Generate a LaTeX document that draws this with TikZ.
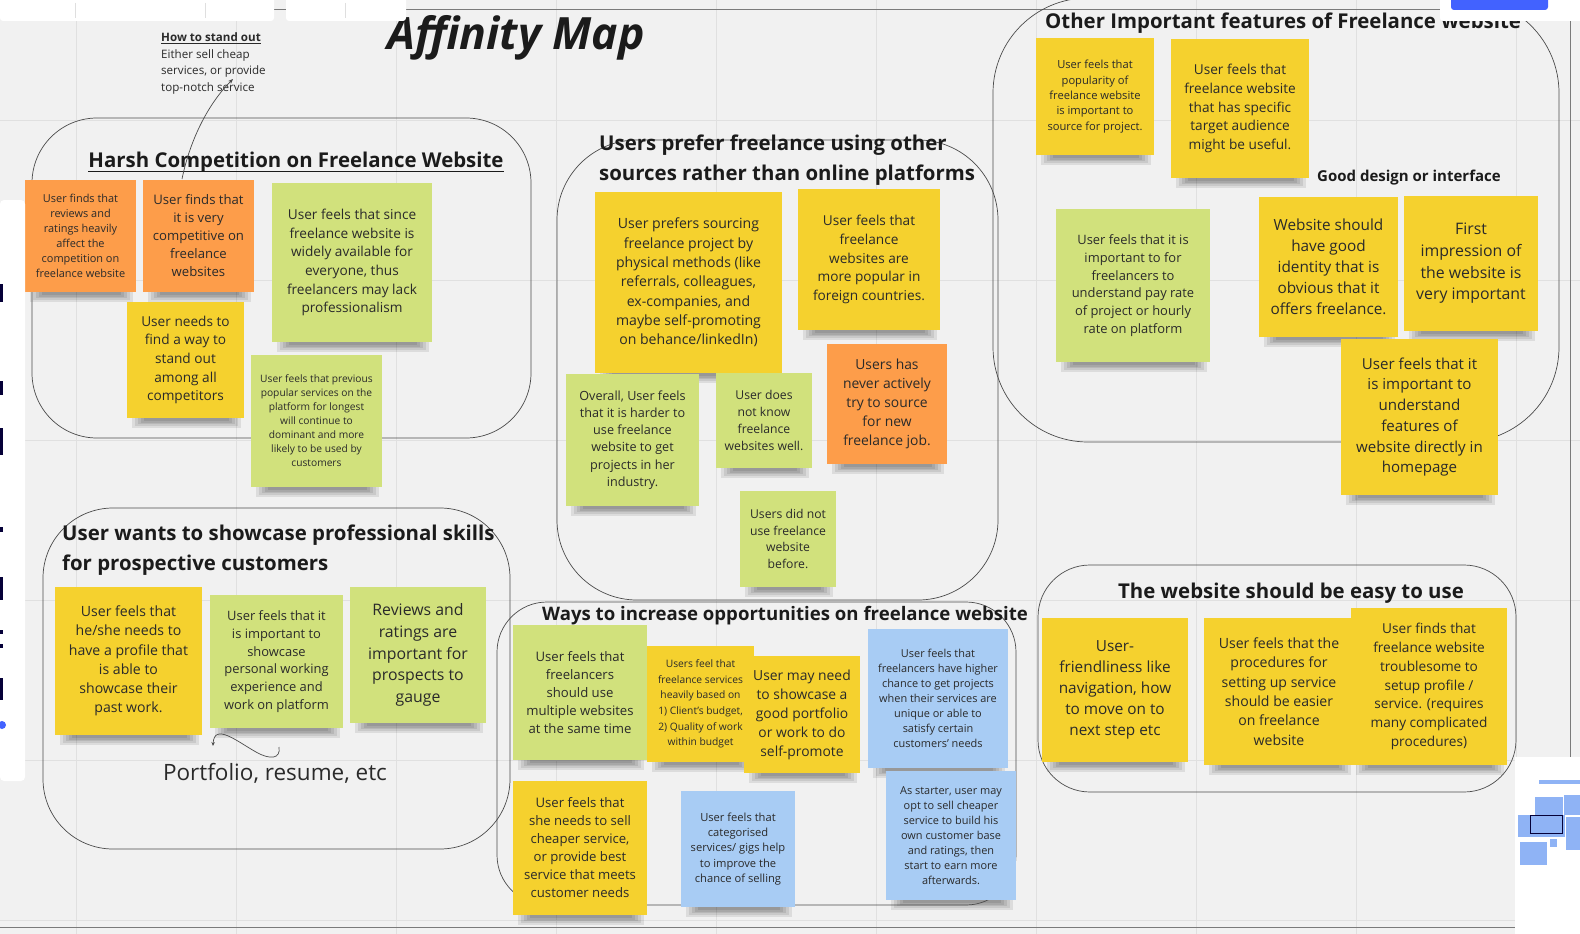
\documentclass[tikz,border=0pt]{standalone}
\usepackage{fontspec}
\setmainfont{Open Sans}
\usetikzlibrary{arrows.meta}
\pgfdeclarelayer{bg}
\pgfdeclarelayer{shad}
\pgfsetlayers{bg,shad,main}
\definecolor{canvas}{HTML}{F1F1F1}
\definecolor{gridc}{HTML}{E0E0E0}
\definecolor{stY}{HTML}{F5D12E}
\definecolor{stO}{HTML}{FD9D4A}
\definecolor{stG}{HTML}{D1E17C}
\definecolor{stB}{HTML}{A8CCF4}
\definecolor{inkc}{HTML}{2A2A2A}
\definecolor{titlec}{HTML}{1B1B1B}
\definecolor{linec}{HTML}{4A4A4A}
\definecolor{framec}{HTML}{7A7A7A}
\definecolor{blueb}{HTML}{4262FF}
\definecolor{navy}{HTML}{050038}
\definecolor{minib}{HTML}{8FB3F5}
\tikzset{
  stnote/.style={inner sep=0pt, align=center, text=inkc},
  ttl/.style={font=\fontsize{20.4pt}{30pt}\selectfont\bfseries, text=titlec, inner sep=0pt, align=left},
  cluster/.style={draw=linec, line width=0.7pt},
  conn/.style={draw=linec, line width=0.7pt},
}
\def\stkratio{1.37}
\newcommand\stickynote[8]{%
  \pgfmathsetmacro\stkw{#5-#3}%
  \pgfmathsetmacro\stkh{#6-#4}%
  \pgfmathsetmacro\stkfs{#7/\stkratio}%
  \begin{pgfonlayer}{shad}%
    \foreach \k in {0,...,4}{%
      \fill[black,opacity=0.085] ({#3+5+3*\k},{#6-2}) rectangle ({#5-3-3*\k},{#6+10-1.8*\k});
    }%
  \end{pgfonlayer}%
  \node[stnote,fill=#2,minimum width=\stkw pt,minimum height=\stkh pt,
        font=\fontsize{\stkfs pt}{#7 pt}\selectfont] (#1) at ({(#3+#5)/2},{(#4+#6)/2}) {#8};%
}
\begin{document}
\begin{tikzpicture}[x=1pt,y=-1pt]
\useasboundingbox (0,0) rectangle (1580,934);
\begin{pgfonlayer}{bg}
  \fill[canvas] (0,0) rectangle (1580,934);
  \foreach \gx in {76,236,...,1516} \draw[gridc, line width=0.8pt] (\gx,0) -- (\gx,934);
  \foreach \gy in {120,280,...,920} \draw[gridc, line width=0.8pt] (0,\gy) -- (1580,\gy);
  \draw[framec, line width=0.8pt] (-10,9.3) -- (1570,9.3) -- (1570,927) -- (-10,927);
\end{pgfonlayer}

% clusters
\draw[cluster, rounded corners=65pt] (32,118) rectangle (531,438);
\draw[cluster, rounded corners=80pt] (557,140) rectangle (998,600);
\draw[cluster, rounded corners=70pt] (43,508) rectangle (510,849);
\draw[cluster, rounded corners=50pt] (497,602) rectangle (1016,905);
\draw[cluster, rounded corners=95pt] (993,-2) rectangle (1559,442);
\draw[cluster, rounded corners=52pt] (1038,565) rectangle (1516,792);

% headings
\node[font=\fontsize{44.5pt}{50pt}\selectfont\bfseries\itshape, text=titlec, inner sep=0pt] (title) at (516,38) {Affinity Map};
\node[ttl] (t1) at (296,162) {Harsh Competition on Freelance Website};
\draw[titlec, line width=1.3pt] ([yshift=-4pt]t1.base west) -- ([yshift=-4pt]t1.base east);
\node[ttl, anchor=west] (t2) at (599,160) {Users prefer freelance using other\\sources rather than online platforms};
\node[ttl, anchor=west] (t3) at (62,550) {User wants to showcase professional skills\\for prospective customers};
\node[ttl, anchor=west, font=\fontsize{18.6pt}{28pt}\selectfont\bfseries] (t4) at (542,616) {Ways to increase opportunities on freelance website};
\node[ttl, anchor=west] (t5) at (1045,23) {Other Important features of Freelance website};
\node[ttl] (t6) at (1291,593) {The website should be easy to use};
\node[ttl, anchor=west, font=\fontsize{15pt}{20pt}\selectfont\bfseries] (gd) at (1317,178) {Good design or interface};

\node[inner sep=0pt, anchor=west, align=left, text=inkc, font=\fontsize{11.6pt}{16.7pt}\selectfont] (howto) at (161,63.5)
  {\textbf{\underline{How to stand out}}\\Either sell cheap\\services, or provide\\top-notch service};
\node[inner sep=0pt, text=inkc, font=\fontsize{22.5pt}{28pt}\selectfont] (port) at (275,773) {Portfolio, resume, etc};

% cluster 1
\stickynote{h1}{stO}{25}{180}{136}{292}{15}{User finds that\\reviews and\\ratings heavily\\affect the\\competition on\\freelance website}
\stickynote{h2}{stO}{143}{180}{254}{292}{18}{User finds that\\it is very\\competitive on\\freelance\\websites}
\stickynote{h3}{stG}{272}{183}{432}{342}{18.7}{User feels that since\\freelance website is\\widely available for\\everyone, thus\\freelancers may lack\\professionalism}
\stickynote{h4}{stY}{127}{302}{244}{418}{18.7}{User needs to\\find a way to\\stand out\\among all\\competitors}
\stickynote{h5}{stG}{251}{355}{382}{487}{14}{User feels that previous\\popular services on the\\platform for longest\\will continue to\\dominant and more\\likely to be used by\\customers}

% cluster 2
\stickynote{u1}{stY}{595}{192}{782}{373}{19.3}{User prefers sourcing\\freelance project by\\physical methods (like\\referrals, colleagues,\\ex-companies, and\\maybe self-promoting\\on behance/linkedIn)}
\stickynote{u2}{stY}{798}{189}{940}{330}{18.7}{User feels that\\freelance\\websites are\\more popular in\\foreign countries.}
\stickynote{u3}{stO}{827}{344}{947}{464}{19}{Users has\\never actively\\try to source\\for new\\freelance job.}
\stickynote{u4}{stG}{566}{374}{699}{506}{17.3}{Overall, User feels\\that it is harder to\\use freelance\\website to get\\projects in her\\industry.}
\stickynote{u5}{stG}{716}{373}{812}{468}{16.7}{User does\\not know\\freelance\\websites well.}
\stickynote{u6}{stG}{740}{491}{836}{587}{16.7}{Users did not\\use freelance\\website\\before.}

% cluster 3
\stickynote{s1}{stY}{55}{587}{202}{735}{19.3}{User feels that\\he/she needs to\\have a profile that\\is able to\\showcase their\\past work.}
\stickynote{s2}{stG}{210}{595}{343}{728}{17.7}{User feels that it\\is important to\\showcase\\personal working\\experience and\\work on platform}
\stickynote{s3}{stG}{350}{587}{486}{723}{21.7}{Reviews and\\ratings are\\important for\\prospects to\\gauge}

% cluster 4
\stickynote{w1}{stG}{513}{625}{647}{760}{18}{User feels that\\freelancers\\should use\\multiple websites\\at the same time}
\def\stkratio{1.53}
\stickynote{w2}{stY}{647}{646}{754}{762}{15.7}{Users feel that\\freelance services\\heavily based on\\1) Client's budget,\\2) Quality of work\\within budget}
\def\stkratio{1.37}
\stickynote{w3}{stY}{744}{656}{860}{773}{19}{User may need\\to showcase a\\good portfolio\\or work to do\\self-promote}
\stickynote{w4}{stB}{868}{629}{1008}{768}{15}{User feels that\\freelancers have higher\\chance to get projects\\when their services are\\unique or able to\\satisfy certain\\customers' needs}
\stickynote{w5}{stY}{513}{781}{647}{915}{18}{User feels that\\she needs to sell\\cheaper service,\\or provide best\\service that meets\\customer needs}
\stickynote{w6}{stB}{681}{791}{795}{907}{15.3}{User feels that\\categorised\\services/ gigs help\\to improve the\\chance of selling}
\stickynote{w7}{stB}{886}{771}{1016}{900}{15}{As starter, user may\\opt to sell cheaper\\service to build his\\own customer base\\and ratings, then\\start to earn more\\afterwards.}

% cluster 5
\stickynote{o1}{stY}{1036}{38}{1154}{155}{15.3}{User feels that\\popularity of\\freelance website\\is important to\\source for project.}
\stickynote{o2}{stY}{1171}{39}{1309}{178}{18.7}{User feels that\\freelance website\\that has specific\\target audience\\might be useful.}
\stickynote{o3}{stG}{1056}{209}{1210}{362}{17.7}{User feels that it is\\important to for\\freelancers to\\understand pay rate\\of project or hourly\\rate on platform}
\stickynote{o4}{stY}{1259}{197}{1398}{337}{21}{Website should\\have good\\identity that is\\obvious that it\\offers freelance.}
\stickynote{o5}{stY}{1404}{196}{1538}{331}{21.7}{First\\impression of\\the website is\\very important}
\stickynote{o6}{stY}{1341}{339}{1498}{495}{20.7}{User feels that it\\is important to\\understand\\features of\\website directly in\\homepage}

% cluster 6
\stickynote{e1}{stY}{1042}{618}{1188}{762}{21}{User-\\friendliness like\\navigation, how\\to move on to\\next step etc}
\stickynote{e2}{stY}{1204}{618}{1354}{765}{19.3}{User feels that the\\procedures for\\setting up service\\should be easier\\on freelance\\website}
\stickynote{e3}{stY}{1351}{608}{1507}{765}{18.7}{User finds that\\freelance website\\troublesome to\\setup profile /\\service. (requires\\many complicated\\procedures)}

% connectors
\coordinate (a1s) at (182,179);
\coordinate (a1e) at (233,79);
\draw[conn, -{Stealth[length=5pt,width=4pt]}] (a1s) .. controls (190,140) and (208,104) .. (a1e);
\coordinate (pf1) at (279,747);
\coordinate (pf2) at (213,746);
\draw[conn, -{Stealth[length=4pt,width=3.5pt]}] (pf1) .. controls (281,759) and (270,760) .. (256,752) .. controls (238,742) and (214,722) .. (pf2);

% UI chrome
\fill[white, rounded corners=3pt] (0,-5) rectangle (274,21);
\draw[gray!25] (75,3) -- (75,18) (205,3) -- (205,18);
\fill[white, rounded corners=3pt] (286,-5) rectangle (406,21);
\draw[gray!25] (345,3) -- (345,18);
\fill[white, rounded corners=3pt] (1440,-5) rectangle (1585,21);
\fill[blueb, rounded corners=3pt] (1451,-6) rectangle (1548,10);
\fill[white, rounded corners=4pt] (0,200) rectangle (25,781);
\foreach \my/\mh in {284/18,381/14,428/27,527/5,577/23,630/4,644/4,678/22}
  \fill[navy] (0,\my) rectangle (3,\my+\mh);
\fill[blueb] (2,725) circle (4);
\fill[white] (1515,757) rectangle (1585,940);
\fill[minib] (1539,780) rectangle (1585,784);
\fill[minib] (1535,797) rectangle (1563,815);
\fill[minib] (1518,815) rectangle (1565,837);
\fill[minib] (1564,795) rectangle (1585,815);
\fill[minib] (1520,842) rectangle (1547,865);
\fill[minib] (1550,839) rectangle (1557,847);
\fill[minib] (1566,817) rectangle (1585,850);
\draw[navy, line width=1pt] (1530,815) rectangle (1562,833);
\end{tikzpicture}
\end{document}
